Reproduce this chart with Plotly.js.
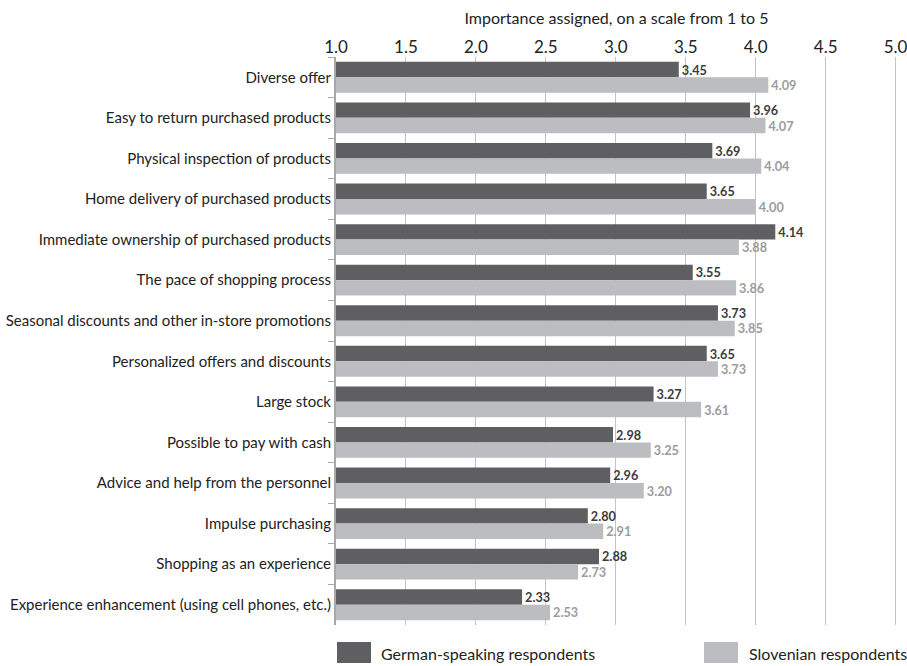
<!DOCTYPE html>
<html>
<head>
<meta charset="utf-8">
<script src="https://cdn.plot.ly/plotly-3.0.1.min.js"></script>
<style>html,body{margin:0;padding:0;background:#fff;}#chart{width:907px;height:666px;}</style>
</head>
<body>
<div id="chart"></div>
<script>
const categories = [
  "Diverse offer",
  "Easy to return purchased products",
  "Physical inspection of products",
  "Home delivery of purchased products",
  "Immediate ownership of purchased products",
  "The pace of shopping process",
  "Seasonal discounts and other in-store promotions",
  "Personalized offers and discounts",
  "Large stock",
  "Possible to pay with cash",
  "Advice and help from the personnel",
  "Impulse purchasing",
  "Shopping as an experience",
  "Experience enhancement (using cell phones, etc.)"
];
const germanValues = [3.45, 3.96, 3.69, 3.65, 4.14, 3.55, 3.73, 3.65, 3.27, 2.98, 2.96, 2.80, 2.88, 2.33];
const slovenianValues = [4.09, 4.07, 4.04, 4.00, 3.88, 3.86, 3.85, 3.73, 3.61, 3.25, 3.20, 2.91, 2.73, 2.53];
const tickValues = [1.0, 1.5, 2.0, 2.5, 3.0, 3.5, 4.0, 4.5, 5.0];
const seriesNames = ["German-speaking respondents", "Slovenian respondents"];
const seriesColors = ['#5f5f61', '#bcbdc0'];
const labelColors = ['#3c3c3e', '#9c9c9e'];

const FONT = "Lato, 'Liberation Sans', sans-serif";
const AXIS_MIN = 1;

const traces = [germanValues, slovenianValues].map((vals, i) => ({
  type: 'bar', orientation: 'h', name: seriesNames[i],
  y: categories, x: vals.map(v => v - AXIS_MIN), base: AXIS_MIN,
  customdata: vals,
  marker: {color: seriesColors[i]},
  texttemplate: '%{customdata:.2f}', textposition: 'outside',
  textfont: {family: FONT, size: 14, color: labelColors[i], weight: 'bold'},
  cliponaxis: false, hoverinfo: 'skip', showlegend: false
}));

// legend built from shapes + annotations (pixel layout converted to paper coords)
const L = 336, R = 897, T = 57, B = 625;
const px = x => (x - L) / (R - L);
const py = y => (B - y) / (B - T);
const legendItems = [
  {x0: 337, x1: 371, tx: 379},
  {x0: 704, x1: 738, tx: 747}
];
const shapes = legendItems.map((it, i) => ({
  type: 'rect', xref: 'paper', yref: 'paper',
  x0: px(it.x0), x1: px(it.x1), y0: py(663), y1: py(642),
  fillcolor: seriesColors[i], line: {width: 0}
}));
const annotations = legendItems.map((it, i) => ({
  xref: 'paper', yref: 'paper', x: px(it.tx), y: py(653), xanchor: 'left', yanchor: 'middle',
  text: seriesNames[i], showarrow: false,
  font: {family: FONT, size: 16, color: '#222'}
}));

const layout = {
  width: 907, height: 666,
  margin: {l: L, r: 907 - R, t: T, b: 666 - B},
  paper_bgcolor: '#fff', plot_bgcolor: '#fff',
  font: {family: FONT, size: 15, color: '#222'},
  barmode: 'group', bargap: 0.24, bargroupgap: 0,
  showlegend: false,
  shapes: shapes, annotations: annotations,
  xaxis: {
    side: 'top', range: [1, 5.01], tickvals: tickValues, tickformat: '.1f',
    ticklabeloverflow: 'allow',
    showgrid: true, gridcolor: '#c4c4c4', gridwidth: 1,
    zeroline: false, showline: false, ticks: '',
    tickfont: {family: FONT, size: 17, color: '#222'},
    title: {text: 'Importance assigned, on a scale from 1 to 5', standoff: 6,
            font: {family: FONT, size: 16, color: '#222'}},
    fixedrange: true
  },
  yaxis: {
    type: 'category', autorange: 'reversed',
    showline: true, linecolor: '#a8a8a8', linewidth: 2,
    ticks: 'outside', tickson: 'boundaries', ticklen: 6, tickcolor: '#a8a8a8', tickwidth: 1,
    showgrid: false, zeroline: false,
    tickfont: {family: FONT, size: 15, color: '#222'},
    fixedrange: true
  }
};

Plotly.newPlot('chart', traces, layout, {displayModeBar: false, staticPlot: true});
</script>
</body>
</html>
